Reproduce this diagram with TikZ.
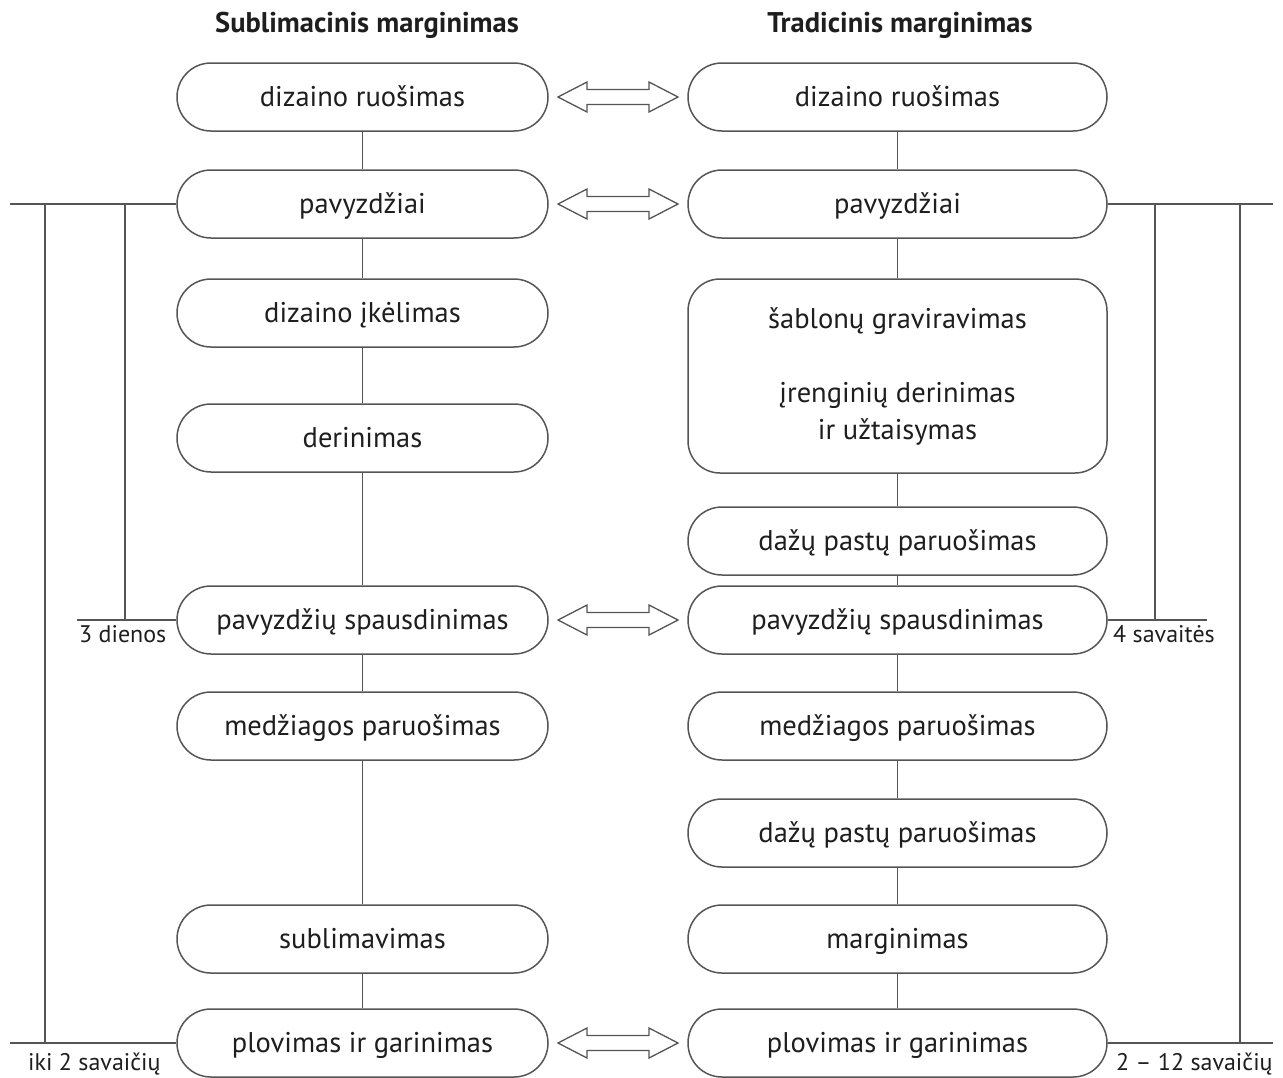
\documentclass[tikz,border=0pt]{standalone}
\usepackage{fontspec}
\setmainfont{PT Sans}
\usetikzlibrary{calc}
\definecolor{linec}{HTML}{555555}
\definecolor{textc}{HTML}{1E1E1E}
\tikzset{
  boxbase/.style={draw=linec, line width=1.5pt, rounded corners=34pt, minimum width=371pt, minimum height=68pt, font=\fontsize{28.5}{34}\selectfont, text=textc, inner sep=0pt},
  box/.style={boxbase, text height=24pt, text depth=6pt},
  rbox/.style={box, minimum width=419pt},
  bigbox/.style={boxbase, minimum width=419pt, minimum height=194pt, rounded corners=32pt, align=center, font=\fontsize{28.5}{37}\selectfont},
  conn/.style={draw=linec, line width=1.5pt},
  lab/.style={font=\fontsize{24}{28}\selectfont, anchor=base west, inner sep=0pt, text=textc},
  ttl/.style={font=\bfseries\fontsize{28.5}{34}\selectfont, anchor=base, inner sep=0pt, text=textc},
  darrow/.style={draw=linec, line width=1.3pt, fill=white, line join=miter}
}
\newcommand{\dblarrow}[1]{\draw[darrow] (#1) ++(-60,0) -- ++(29,-15) -- ++(0,7.5) -- ++(62,0) -- ++(0,-7.5) -- ++(29,15) -- ++(-29,15) -- ++(0,-7.5) -- ++(-62,0) -- ++(0,7.5) -- cycle;}
\begin{document}
\begin{tikzpicture}[x=1pt,y=-1pt]
\useasboundingbox (0,0) rectangle (1283,1077);
% titles
\node[ttl] (t1) at (367,32) {Sublimacinis marginimas};
\node[ttl] (t2) at (900,32) {Tradicinis marginimas};
% left column
\node[box] (L1) at (362.5,97) {dizaino ruošimas};
\node[box] (L2) at (362.5,204) {pavyzdžiai};
\node[box] (L3) at (362.5,313) {dizaino įkėlimas};
\node[box] (L4) at (362.5,438) {derinimas};
\node[box] (L5) at (362.5,620) {pavyzdžių spausdinimas};
\node[box] (L6) at (362.5,726) {medžiagos paruošimas};
\node[box] (L7) at (362.5,939) {sublimavimas};
\node[box] (L8) at (362.5,1043) {plovimas ir garinimas};
% right column
\node[rbox] (R1) at (897.5,97) {dizaino ruošimas};
\node[rbox] (R2) at (897.5,204) {pavyzdžiai};
\node[bigbox] (R3) at (897.5,376) {šablonų graviravimas\\[37pt]įrenginių derinimas\\ir užtaisymas};
\node[rbox] (R4) at (897.5,541) {dažų pastų paruošimas};
\node[rbox] (R5) at (897.5,620) {pavyzdžių spausdinimas};
\node[rbox] (R6) at (897.5,726) {medžiagos paruošimas};
\node[rbox] (R7) at (897.5,833) {dažų pastų paruošimas};
\node[rbox] (R8) at (897.5,939) {marginimas};
\node[rbox] (R9) at (897.5,1043) {plovimas ir garinimas};
% vertical connectors
\foreach \a/\b in {L1/L2,L2/L3,L3/L4,L4/L5,L5/L6,L6/L7,L7/L8,R1/R2,R2/R3,R3/R4,R4/R5,R5/R6,R6/R7,R7/R8,R8/R9}
  \draw[conn] (\a.south) -- (\b.north);
% double arrows
\foreach \l/\r in {L1/R1,L2/R2,L5/R5,L8/R9}{
  \coordinate (m\l) at ($(\l.east)!0.5!(\r.west)$);
  \dblarrow{m\l}
}
% left brackets
\coordinate (lt) at (10,204);
\coordinate (lv1) at (45,204);
\coordinate (lv2) at (125,204);
\coordinate (l3a) at (77,620);
\coordinate (l3b) at (125,620);
\coordinate (lb) at (10,1043);
\coordinate (lv1b) at (45,1043);
\draw[conn] (lt) -- (L2.west);
\draw[conn] (lv1) -- (lv1b);
\draw[conn] (lv2) -- (l3b);
\draw[conn] (l3a) -- (L5.west);
\draw[conn] (lb) -- (L8.west);
\node[lab] (d3) at (79,642) {3 dienos};
\node[lab] (d2) at (28,1070) {iki 2 savaičių};
% right brackets
\coordinate (rt) at (1273,204);
\coordinate (rv1) at (1155,204);
\coordinate (rv2) at (1240,204);
\coordinate (r4a) at (1207,620);
\coordinate (r4b) at (1155,620);
\coordinate (rb) at (1273,1043);
\coordinate (rv2b) at (1240,1043);
\draw[conn] (R2.east) -- (rt);
\draw[conn] (rv1) -- (r4b);
\draw[conn] (rv2) -- (rv2b);
\draw[conn] (R5.east) -- (r4a);
\draw[conn] (R9.east) -- (rb);
\node[lab] (w4) at (1113,642) {4 savaitės};
\node[lab] (w12) at (1116,1070) {2 – 12 savaičių};
\end{tikzpicture}
\end{document}
